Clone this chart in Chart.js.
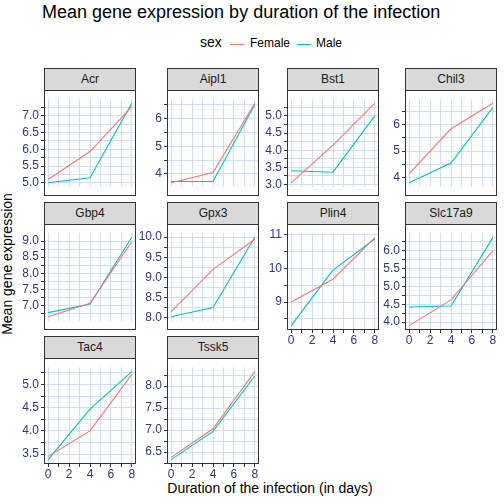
<!DOCTYPE html>
<html><head><meta charset="utf-8">
<script src="https://cdn.jsdelivr.net/npm/chart.js@4"></script>
<style>
body{margin:0;width:504px;height:504px;background:#fff;position:relative;overflow:hidden;font-family:"Liberation Sans Narrow","Liberation Sans",sans-serif;}
.abs{position:absolute;}
.strip{background:#d9d9d9;border:1px solid #333;box-sizing:border-box;text-align:center;font-size:12px;color:#1a1a1a;line-height:21px;}
.frame{border:1px solid #333;box-sizing:border-box;pointer-events:none;}
</style></head><body>
<div class="abs" style="left:42px;top:2px;font-size:18px;color:#000">Mean gene expression by duration of the infection</div>
<div class="abs" style="left:200px;top:34px;font-size:14px;">sex</div>
<div class="abs" style="left:230px;top:44px;width:14px;border-top:1px solid #F8766D"></div>
<div class="abs" style="left:250px;top:36px;font-size:12px;">Female</div>
<div class="abs" style="left:297px;top:44px;width:14px;border-top:1px solid #00BFC4"></div>
<div class="abs" style="left:316px;top:36px;font-size:12px;">Male</div>
<div class="abs" style="left:-68px;top:256px;width:150px;text-align:center;transform:rotate(-90deg);font-size:14px;">Mean gene expression</div>
<div class="abs" style="left:120px;top:480px;width:300px;text-align:center;font-size:14px;">Duration of the infection (in days)</div>
<script>
const days = [0, 4, 8];
const genes = ["Acr","Aipl1","Bst1","Chil3","Gbp4","Gpx3","Plin4","Slc17a9","Tac4","Tssk5"];
const female = [
  [5.1, 5.93, 7.27], [3.68, 4.05, 6.55], [3.05, 4.15, 5.37], [4.15, 5.85, 6.82], [6.65, 7.07, 8.98],
  [8.15, 9.2, 9.95], [9.0, 9.68, 10.92], [3.9, 4.62, 6.0], [3.45, 4.0, 5.22], [6.38, 7.03, 8.33]
];
const male = [
  [5.0, 5.15, 7.37], [3.73, 3.73, 6.5], [3.4, 3.36, 5.0], [3.8, 4.55, 6.65], [6.78, 7.05, 9.12],
  [8.02, 8.25, 10.0], [8.3, 9.95, 10.88], [4.42, 4.45, 6.37], [3.38, 4.47, 5.28], [6.33, 6.97, 8.23]
];
const majorStep = [0.5, 1, 0.5, 1, 0.5, 0.5, 1, 0.5, 0.5, 0.5];

const colLeft = [44, 167, 287, 405];
const plotW = 92;
const rowTop = [68, 202, 336];
const stripH = 22, plotH = 106;
const gridColor = '#cde0fb';
const tickColor = '#2b3a7a';
const font = {family: '"Liberation Sans Narrow","Liberation Sans",sans-serif', size: 12};

genes.forEach((g, i) => {
  const col = i % 4, row = Math.floor(i / 4);
  const bottom = (row === 2) || (row === 1 && col >= 2);
  const left = colLeft[col], top = rowTop[row];
  const strip = document.createElement('div');
  strip.className = 'abs strip';
  Object.assign(strip.style, {left: left + 'px', top: top + 'px', width: plotW + 'px', height: (stripH + 1) + 'px'});
  strip.textContent = g;
  document.body.appendChild(strip);

  const axisW = 40, axisH = bottom ? 18 : 0;
  const cv = document.createElement('canvas');
  cv.width = plotW + axisW; cv.height = plotH + axisH;
  cv.className = 'abs';
  Object.assign(cv.style, {left: (left - axisW) + 'px', top: (top + stripH) + 'px', width: (plotW + axisW) + 'px', height: (plotH + axisH) + 'px'});
  document.body.appendChild(cv);

  const frame = document.createElement('div');
  frame.className = 'abs frame';
  Object.assign(frame.style, {left: left + 'px', top: (top + stripH) + 'px', width: plotW + 'px', height: plotH + 'px'});
  document.body.appendChild(frame);

  const all = female[i].concat(male[i]);
  const lo = Math.min(...all), hi = Math.max(...all), pad = (hi - lo) * 0.05;
  const step = majorStep[i];
  const isMajor = (v, s) => Math.abs(v / s - Math.round(v / s)) < 1e-6;
  const yTicks = [];
  for (let v = Math.ceil((lo - pad) / (step / 2)) * step / 2; v <= hi + pad; v += step / 2) yTicks.push({value: +v.toFixed(4)});

  new Chart(cv, {
    type: 'line',
    data: {
      datasets: [
        {label: 'Female', data: days.map((d, k) => ({x: d, y: female[i][k]})), borderColor: '#F8766D', borderWidth: 1.1, pointRadius: 0, tension: 0},
        {label: 'Male', data: days.map((d, k) => ({x: d, y: male[i][k]})), borderColor: '#00BFC4', borderWidth: 1.1, pointRadius: 0, tension: 0}
      ]
    },
    options: {
      responsive: false, animation: false, devicePixelRatio: 1,
      layout: {padding: 0},
      plugins: {legend: {display: false}, tooltip: {enabled: false}},
      scales: {
        x: {
          type: 'linear', min: -0.4, max: 8.4,
          afterFit: s => { s.height = axisH; },
          afterBuildTicks: s => { s.ticks = [0,1,2,3,4,5,6,7,8].map(v => ({value: v})); },
          border: {display: false},
          grid: {color: gridColor, lineWidth: 1, drawTicks: bottom, tickLength: 3, tickColor: '#333'},
          ticks: {display: bottom, color: tickColor, font: font, padding: 0, maxRotation: 0, autoSkip: false,
            callback: v => isMajor(v, 2) ? v : ''}
        },
        y: {
          type: 'linear', min: lo - pad, max: hi + pad,
          afterFit: s => { s.width = axisW; },
          afterBuildTicks: s => { s.ticks = yTicks.map(t => ({value: t.value})); },
          border: {display: false},
          grid: {color: gridColor, lineWidth: 1, tickLength: 3, tickColor: '#333'},
          ticks: {color: tickColor, font: font, padding: 2, autoSkip: false,
            callback: v => isMajor(v, step) ? (step < 1 ? v.toFixed(1) : v.toFixed(0)) : ''}
        }
      }
    }
  });
});
</script>
</body></html>
